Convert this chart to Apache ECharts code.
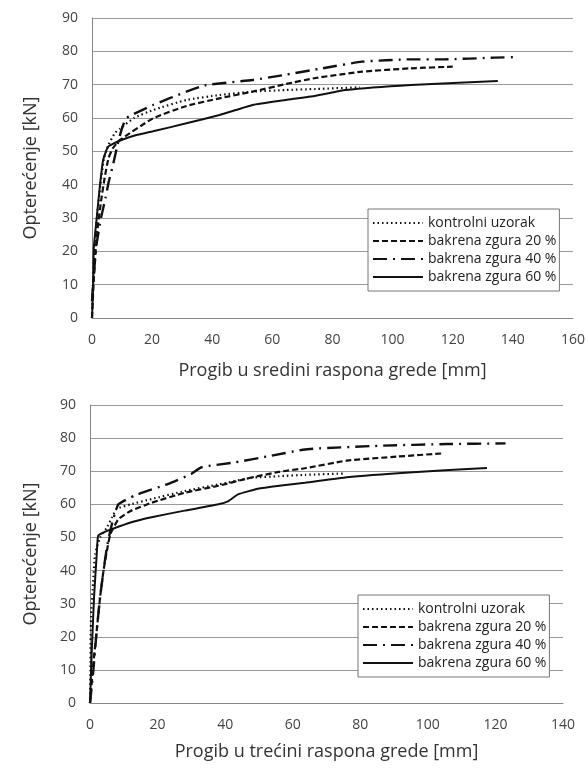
<!DOCTYPE html>
<html>
<head>
<meta charset="utf-8">
<script src="https://cdn.jsdelivr.net/npm/echarts@6/dist/echarts.min.js"></script>
<style>
  html, body { margin: 0; padding: 0; background: #fff; }
  #main { width: 588px; height: 769px; }
</style>
</head>
<body>
<div id="main"></div>
<script>
// legend names
const seriesNames = ['kontrolni uzorak', 'bakrena zgura 20 %', 'bakrena zgura 40 %', 'bakrena zgura 60 %']

// top chart: progib u sredini [mm, kN]
const midCtrl = [[0, 0], [0.3, 10], [0.8, 20], [1.6, 30], [2.8, 40], [4, 48], [5.5, 52], [7.6, 55.5], [9.3, 56.8], [14, 60], [20.3, 62.4], [31.4, 65.4], [42.4, 66.9], [53.4, 67.9], [64.5, 68.4], [74.4, 68.7], [89, 69.2]]
const mid20 = [[0, 0], [0.5, 10], [1.2, 20], [2, 28], [3, 35], [4.2, 42], [5.5, 48], [7, 51], [9.3, 53.4], [20.3, 59.9], [31.4, 63.6], [42.4, 65.9], [53.4, 67.9], [64.5, 70.2], [74.4, 72], [89.8, 73.9], [106, 74.9], [120, 75.4]]
const mid40 = [[0, 5], [0.5, 12], [1.5, 22], [3, 30], [4.5, 36], [5.6, 41], [7, 46], [8.5, 52], [10, 57], [11.5, 60], [20.3, 63.9], [31.4, 67.9], [38, 69.9], [53.4, 71.4], [64.5, 73], [76.6, 74.9], [89.8, 76.9], [106, 77.6], [117, 77.6], [134, 78.1], [141.7, 78.3]]
const mid60 = [[0, 0], [0.4, 10], [0.6, 21], [1.5, 29.4], [2.6, 39.4], [3.7, 47.4], [5.4, 51.4], [9.8, 53.4], [14.8, 54.9], [20.3, 56], [31.4, 58.4], [42.4, 60.9], [47.9, 62.4], [53.4, 63.9], [64.5, 65.4], [74.4, 66.7], [84.4, 68.4], [106, 69.9], [135, 71.1]]

// bottom chart: progib u trecini [mm, kN]
const thirdCtrl = [[0, 0], [0.1, 10], [0.2, 20], [0.4, 28], [0.9, 36], [1.5, 45], [3, 50], [5, 53], [6.5, 56], [7.9, 58.6], [12, 60], [18.2, 61.6], [28, 64], [38, 66], [47.8, 68], [56, 68.5], [63.6, 68.9], [75, 69.3]]
const third20 = [[0, 0], [1, 12], [2, 22], [3, 32], [4, 40], [5, 46], [6, 51], [7, 53], [8.4, 55.5], [12, 58], [18.3, 60.5], [28, 63.5], [38, 65.6], [47.8, 68.1], [56, 69.8], [63.6, 70.9], [76, 73.2], [90.7, 74.4], [104.5, 75.4]]
const third40 = [[0, 0], [1, 10], [2, 22], [3, 32], [4, 40], [5, 47], [6, 52], [7, 56], [8.4, 60], [13.3, 62.7], [23.2, 66.2], [30, 69.2], [33, 71.2], [43, 72.7], [52.7, 74.5], [63, 76.5], [66, 76.8], [86, 77.7], [105.6, 78.2], [123, 78.4]]
const third60 = [[0, 0], [0.5, 15], [1.2, 32], [2, 45], [2.4, 50.5], [4, 51.5], [6.5, 52.5], [12, 54.5], [18.2, 56.1], [28, 58.1], [38, 60], [41, 61], [43.8, 63], [49.7, 64.7], [56, 65.6], [63.6, 66.5], [76, 68.2], [95.6, 69.7], [117.5, 71]]

const font = 'Open Sans'
const ink = '#111'

// one line style per mix
const styles = [
  { type: [1.5, 3], width: 2.2 },
  { type: [6, 3], width: 2.2 },
  { type: [14, 6, 2, 6], width: 2.4 },
  { type: 'solid', width: 2 }
]

const chart = echarts.init(document.getElementById('main'))

function makeSeries(list, idx) {
  return list.map((d, i) => {
    return {
      name: seriesNames[i],
      type: 'line',
      xAxisIndex: idx,
      yAxisIndex: idx,
      data: d,
      symbol: 'none',
      smooth: 0.15,
      lineStyle: Object.assign({ color: ink, cap: 'butt' }, styles[i]),
      itemStyle: { color: ink }
    }
  })
}

function xAx(idx, max, name, gap) {
  return {
    gridIndex: idx,
    type: 'value',
    min: 0,
    max: max,
    interval: 20,
    name: name,
    nameLocation: 'middle',
    nameGap: gap,
    nameTextStyle: { fontFamily: font, fontSize: 18, color: '#333' },
    axisLine: { show: true, lineStyle: { color: '#888' } },
    axisTick: { show: false },
    splitLine: { show: false },
    axisLabel: { fontFamily: font, fontSize: 14, color: '#444', margin: 15 }
  }
}

function yAx(idx, gap) {
  return {
    gridIndex: idx,
    type: 'value',
    min: 0,
    max: 90,
    interval: 10,
    name: 'Opterećenje [kN]',
    nameLocation: 'middle',
    nameGap: gap,
    nameTextStyle: { fontFamily: font, fontSize: 18, color: '#333' },
    axisLine: { show: true, lineStyle: { color: '#888' } },
    axisTick: { show: false },
    splitLine: { show: true, lineStyle: { color: '#999', width: 1 } },
    axisLabel: { fontFamily: font, fontSize: 14, color: '#444', margin: 14 }
  }
}

function legendAt(left, top) {
  return {
    left: left,
    top: top,
    orient: 'vertical',
    data: seriesNames,
    backgroundColor: '#fff',
    borderColor: '#777',
    borderWidth: 1,
    padding: [7, 3, 7, 4],
    itemGap: 4,
    itemWidth: 50,
    itemHeight: 14,
    selectedMode: false,
    // hide the circle marker, keep the line sample
    itemStyle: { color: 'rgba(0,0,0,0)', borderColor: 'rgba(0,0,0,0)', borderWidth: 0 },
    textStyle: { fontFamily: font, fontSize: 14, color: '#222' }
  }
}

const option = {
  animation: false,
  grid: [
    { left: 92, top: 18, width: 483, height: 300 },
    { left: 90, top: 405, width: 473, height: 298 }
  ],
  xAxis: [
    xAx(0, 160, 'Progib u sredini raspona grede [mm]', 44),
    xAx(1, 140, 'Progib u trećini raspona grede [mm]', 40)
  ],
  yAxis: [yAx(0, 52), yAx(1, 50)],
  legend: [legendAt(368, 209), legendAt(358, 595)],
  series: makeSeries([midCtrl, mid20, mid40, mid60], 0).concat(makeSeries([thirdCtrl, third20, third40, third60], 1))
}

chart.setOption(option)
</script>
</body>
</html>
